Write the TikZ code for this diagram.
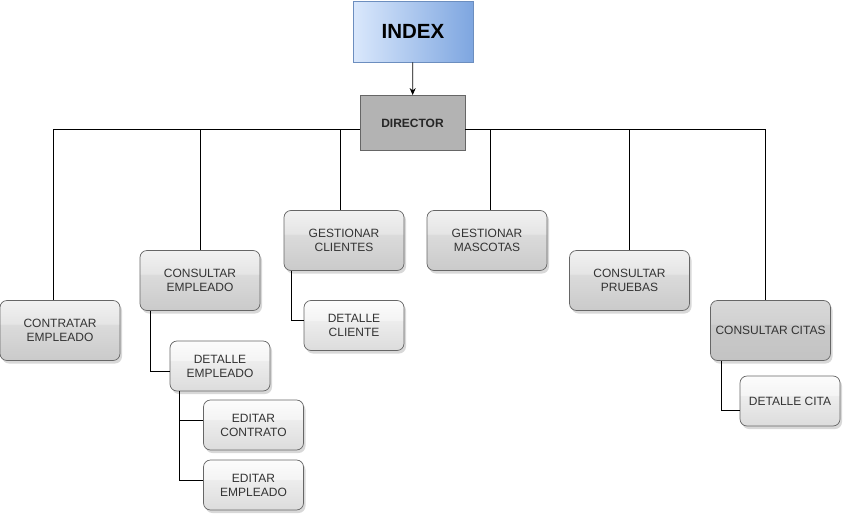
\documentclass[tikz,border=0pt]{standalone}
\usepackage{fontspec}
\setmainfont{Liberation Sans}
\usetikzlibrary{shadows,arrows.meta}
\definecolor{gA1}{HTML}{CACACA}
\definecolor{gA2}{HTML}{DBDBDB}
\definecolor{gA3}{HTML}{E5E5E5}
\definecolor{gA4}{HTML}{F1F1F1}
\definecolor{gB1}{HTML}{DCDCDC}
\definecolor{gB2}{HTML}{EDEDED}
\definecolor{gB3}{HTML}{F4F4F4}
\definecolor{gB4}{HTML}{FCFCFC}
\definecolor{gC1}{HTML}{C3C3C3}
\definecolor{gC2}{HTML}{C9C9C9}
\definecolor{gC3}{HTML}{D1D1D1}
\definecolor{gC4}{HTML}{D8D8D8}
\definecolor{cBorder}{HTML}{666666}
\definecolor{cText}{HTML}{333333}
\definecolor{idxL}{HTML}{DAE8FC}
\definecolor{idxR}{HTML}{7EA6E0}
\definecolor{idxB}{HTML}{6C8EBF}
\definecolor{dirFill}{HTML}{B3B3B3}
\pgfdeclareverticalshading{glassA}{100bp}{color(0bp)=(gA1); color(25bp)=(gA1); color(55bp)=(gA2); color(55.6bp)=(gA3); color(75bp)=(gA4); color(100bp)=(gA4)}
\pgfdeclareverticalshading{glassB}{100bp}{color(0bp)=(gB1); color(25bp)=(gB1); color(55bp)=(gB2); color(55.6bp)=(gB3); color(75bp)=(gB4); color(100bp)=(gB4)}
\pgfdeclareverticalshading{glassC}{100bp}{color(0bp)=(gC1); color(25bp)=(gC1); color(55bp)=(gC2); color(55.6bp)=(gC3); color(75bp)=(gC4); color(100bp)=(gC4)}
\tikzset{
  box/.style={rectangle, rounded corners=7pt, draw=cBorder, line width=0.7pt,
    shading=glassA, text=cText, font=\fontsize{12}{14}\selectfont,
    align=center, inner sep=0pt,
    drop shadow={shadow xshift=2pt, shadow yshift=-3pt, opacity=0.3, fill=gray}},
  bigbox/.style={box, minimum width=120pt, minimum height=60pt},
  smallbox/.style={box, shading=glassB, minimum width=100pt, minimum height=50pt},
  citabox/.style={box, shading=glassC, minimum width=120pt, minimum height=60pt},
  link/.style={draw=black, line width=0.8pt},
}
\begin{document}
\begin{tikzpicture}[x=1pt,y=-1pt]
\useasboundingbox (0,0) rectangle (843,514);
\fill[white] (0,0) rectangle (843,514);

\node[rectangle, draw=idxB, line width=0.8pt, left color=idxL, right color=idxR,
  minimum width=120pt, minimum height=61pt, inner sep=0pt,
  font=\bfseries\fontsize{20.5}{23}\selectfont, text=black] (index) at (413,31.5) {INDEX};
\node[rectangle, draw=cBorder, line width=0.8pt, fill=dirFill,
  minimum width=105pt, minimum height=55pt, inner sep=0pt,
  font=\bfseries\fontsize{12}{14}\selectfont, text=black!85] (dir) at (412.5,123) {DIRECTOR};

\node[bigbox] (contratar) at (60,330.5) {CONTRATAR\\EMPLEADO};
\node[bigbox] (consemp) at (200,280.5) {CONSULTAR\\EMPLEADO};
\node[smallbox] (detemp) at (220,366) {DETALLE\\EMPLEADO};
\node[smallbox] (edcont) at (253.5,425) {EDITAR\\CONTRATO};
\node[smallbox] (edemp) at (253.5,485) {EDITAR\\EMPLEADO};
\node[bigbox] (gescli) at (344,240.5) {GESTIONAR\\CLIENTES};
\node[smallbox] (detcli) at (354,325.5) {DETALLE\\CLIENTE};
\node[bigbox] (gesmas) at (487,240.5) {GESTIONAR\\MASCOTAS};
\node[bigbox] (conspru) at (629.5,280.5) {CONSULTAR\\PRUEBAS};
\node[citabox] (conscit) at (770.5,330.5) {CONSULTAR CITAS};
\node[smallbox] (detcit) at (790,401) {DETALLE CITA};

\draw[link, -{Stealth[length=7pt,width=6pt]}] (index) -- (dir);

\draw[link] ([yshift=-6pt]dir.west) -| ([xshift=-7pt]contratar.north);
\draw[link] ([yshift=-6pt]dir.west) -| (consemp.north);
\draw[link] ([yshift=-6pt]dir.west) -| ([xshift=-4pt]gescli.north);
\draw[link] ([yshift=-6pt]dir.east) -| ([xshift=3pt]gesmas.north);
\draw[link] ([yshift=-6pt]dir.east) -| ([xshift=-0.5pt]conspru.north);
\draw[link] ([yshift=-6pt]dir.east) -| ([xshift=-5.5pt]conscit.north);

\draw[link] ([xshift=11pt]consemp.south west) |- ([yshift=-5pt]detemp.west);
\draw[link] ([xshift=10pt]detemp.south west) |- ([yshift=5pt]edcont.west);
\draw[link] ([xshift=10pt]detemp.south west) |- ([yshift=5pt]edemp.west);
\draw[link] ([xshift=8pt]gescli.south west) |- ([yshift=5pt]detcli.west);
\draw[link] ([xshift=11pt]conscit.south west) |- ([yshift=-9pt]detcit.west);
\end{tikzpicture}
\end{document}
